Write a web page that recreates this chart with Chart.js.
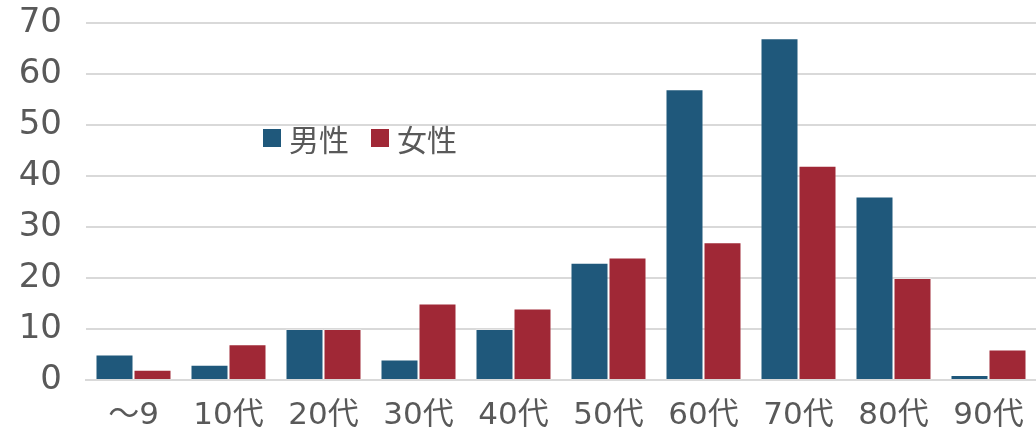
<!DOCTYPE html>
<html lang="ja">
<head>
<meta charset="utf-8">
<script src="https://cdn.jsdelivr.net/npm/chart.js@4"></script>
<style>
  html, body { margin: 0; padding: 0; background: #fff; }
  #wrap { position: relative; width: 1036px; height: 432px; }
  .legend { position: absolute; left: 263px; top: 116px; display: flex; align-items: center;
    font-family: "Noto Sans CJK JP", sans-serif; font-size: 30px; color: #595959; }
  .legend span.box { display: inline-block; width: 18px; height: 18px; margin-right: 8px; }
  .legend span.lbl { margin-right: 22px; }
</style>
</head>
<body>
<div id="wrap">
  <canvas id="chart" width="1036" height="432"></canvas>
  <div class="legend">
    <span class="box" style="background:#1F587B"></span><span class="lbl">男性</span>
    <span class="box" style="background:#A02836"></span><span class="lbl">女性</span>
  </div>
</div>
<script>
// datos
const categorias = ['～9', '10代', '20代', '30代', '40代', '50代', '60代', '70代', '80代', '90代'];
const hombres = [5, 3, 10, 4, 10, 23, 57, 67, 36, 1];
const mujeres = [2, 7, 10, 15, 14, 24, 27, 42, 20, 6];
const ticksY = [0, 10, 20, 30, 40, 50, 60, 70];

const COLOR_H = '#1F587B';
const COLOR_M = '#A02836';
const FUENTE = '"DejaVu Sans", "Noto Sans CJK JP", sans-serif';

new Chart(document.getElementById('chart'), {
  type: 'bar',
  data: {
    labels: categorias,
    datasets: [
      { label: '男性', data: hombres, backgroundColor: COLOR_H, borderColor: 'rgba(255,255,255,0.35)', borderWidth: 1 },
      { label: '女性', data: mujeres, backgroundColor: COLOR_M, borderColor: 'rgba(255,255,255,0.35)', borderWidth: 1 }
    ]
  },
  options: {
    responsive: false,
    animation: false,
    layout: { padding: { top: 23, right: 0, bottom: 0, left: 0 } },
    plugins: { legend: { display: false }, tooltip: { enabled: false } },
    datasets: { bar: { categoryPercentage: 0.8, barPercentage: 1.0 } },
    scales: {
      x: {
        grid: { display: false, drawTicks: false },
        border: { color: '#d9d9d9', width: 2 },
        ticks: { color: '#595959', font: { family: FUENTE, size: 31 }, padding: 17, maxRotation: 0, autoSkip: false },
        afterFit: s => { s.height = 52; s.paddingLeft = 0; s.paddingRight = 0; }
      },
      y: {
        min: 0, max: 70,
        afterBuildTicks: s => { s.ticks = ticksY.map(v => ({ value: v })); },
        grid: { color: '#d9d9d9', lineWidth: 2, drawTicks: false },
        border: { display: false },
        ticks: { color: '#595959', font: { family: FUENTE, size: 34 }, padding: 24 },
        afterFit: s => { s.width = 86; s.paddingTop = 0; s.paddingBottom = 0; }
      }
    }
  }
});
</script>
</body>
</html>
